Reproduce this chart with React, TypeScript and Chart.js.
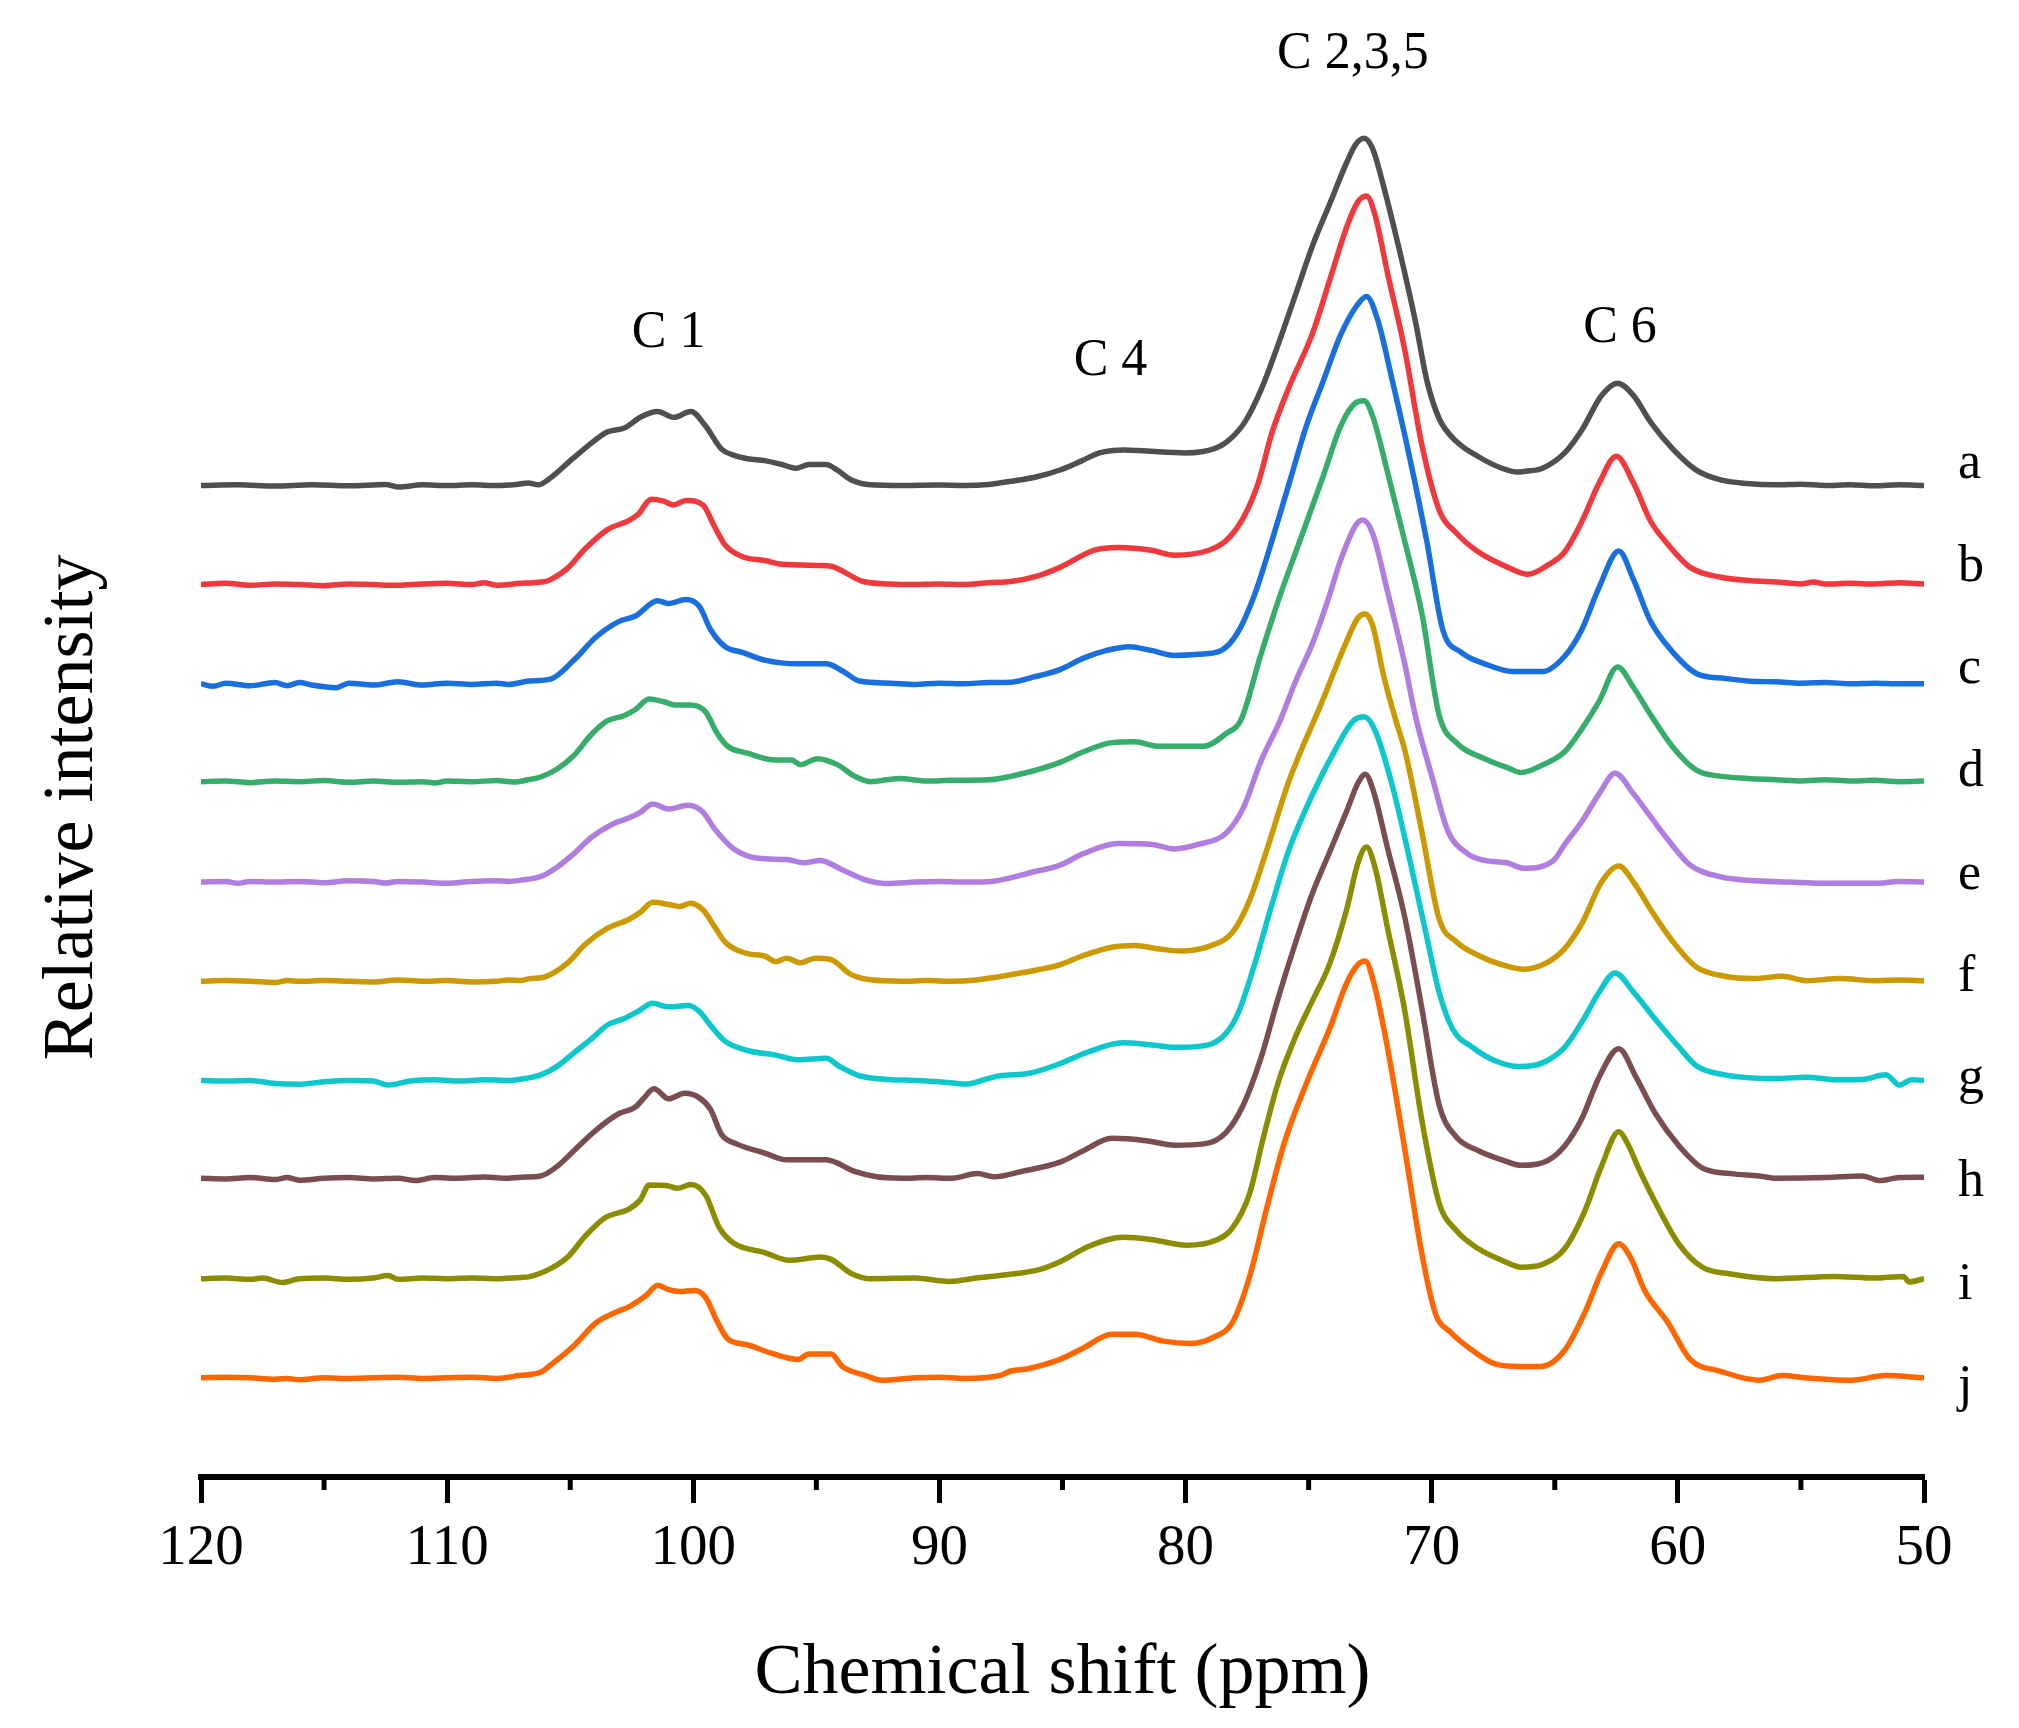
import { useEffect, useRef } from 'react';
import { Chart, registerables } from 'chart.js';

Chart.register(...registerables);

// ---- axis ----
const X_MIN = 50;
const X_MAX = 120;
const X_STEP = 10;
const minorTickValues = [115, 105, 95, 85, 75, 65, 55];
const Y_MAX = 1147;

// ---- series (ppm, relative intensity above own baseline) ----
const seriesNames = ['a', 'b', 'c', 'd', 'e', 'f', 'g', 'h', 'i', 'j'];
const seriesColors = ['#4F4F4F', '#F0393C', '#1A6FDF', '#37AD6B', '#B07DE0', '#CC9900', '#0CC7CB', '#7A4E50', '#8C8C00', '#FF6600'];
const seriesOffsets = [770, 693, 616, 540, 462, 385, 308, 232, 154, 77];
const seriesLabelY = [776, 696, 616.5, 537, 457, 377.5, 298, 218, 138.5, 59];

const seriesA = [[120,0],[118.5,0.5],[117,-0.5],[115.5,0.5],[114,-0.3],[112.5,0.8],[112,-1.2],[111,0.5],[110,0],[109,0.5],[108,0],[107.2,0.8],[106.7,2],[106.3,0.5],[105.8,5.9],[104.9,20.8],[104,35],[103.5,41.6],[102.8,44.6],[102.1,53.5],[101.45,57.4],[100.8,52.9],[100.1,57.4],[99.5,46.1],[98.85,28.2],[98.4,23.8],[97.8,20.8],[97.1,19.3],[96.4,16.3],[95.8,13.4],[95.3,16.3],[94.6,16.3],[94.15,11.9],[93.6,4.5],[92.8,0.6],[91.5,0],[90,0.3],[89,0],[88,0.8],[87,3.5],[86,7],[85.1,12],[84.2,19.3],[83.5,25.3],[82.5,27.6],[81.6,26.7],[80,25.3],[78.8,28.8],[78.3,34.2],[77.6,49],[76.9,75.8],[76.2,111.5],[75.5,150],[74.85,185.8],[74.15,218.4],[73.45,251],[73.1,264.5],[72.75,269.6],[72.4,261.5],[72.05,239.2],[71.35,185.8],[70.65,126.3],[70.2,81.7],[69.7,52],[69,34.2],[68.1,22.3],[67.15,13.4],[66.5,10.4],[66.2,11],[65.5,13.4],[64.6,25.3],[63.9,43.1],[63.1,69.8],[62.45,79.4],[61.8,69.8],[61.1,49],[60.2,28.2],[59.25,11.9],[58.3,4.5],[57.2,1.5],[56,0.5],[55,1],[54,0],[53,0.5],[52,-0.3],[51,0.5],[50,0]];
const seriesB = [[120,0],[119,1],[118,-0.5],[117,0.5],[116,0],[115,-0.8],[114,0.5],[113,0],[112,-0.5],[111,0.5],[110,1],[109,0],[108.5,1.5],[108,-0.5],[107,1],[106.5,1.5],[106,2.5],[105.8,3.9],[105.1,12.8],[104.4,27.6],[103.5,42.5],[102.6,49.9],[102.25,54.4],[101.7,66.3],[101.2,64.8],[100.8,61.8],[100.3,65.4],[99.6,61.8],[99.15,45.5],[98.7,30.6],[98,21.7],[97.1,18.7],[96.4,15.8],[94.85,14.9],[94.4,14.3],[93.1,2.4],[92,0.5],[91.2,0],[90,0.5],[89,0],[88,1.5],[87.1,2.4],[86,6.8],[85.1,13.4],[83.7,26.7],[82.75,28.8],[81.4,26.7],[80.45,22.9],[79.05,26.7],[78.35,34.2],[77.65,52],[77.05,78.8],[76.5,117.4],[75.8,153.1],[74.85,194.7],[74.05,242.3],[73.45,277.9],[73,297.2],[72.65,301.7],[72.3,286.8],[71.8,242.3],[71.1,182.8],[70.4,108.5],[69.7,58],[69,40.1],[68.1,25.3],[66.9,13.4],[66.1,8],[65.3,14.9],[64.6,25.3],[63.9,49],[63.2,78.8],[62.5,99.6],[61.8,78.8],[61.1,49],[60.4,31.2],[59.5,13.4],[58.3,5.9],[57,3],[56,2.1],[55,0.5],[54.5,2],[54,0.5],[53,1],[52,0.5],[51,1.5],[50,0.5]];
const seriesC = [[120,0],[119.5,-2],[119,0.5],[118,-1.5],[117,1],[116.5,-1.5],[116,1],[115.5,-1],[114.5,-3],[114,0.5],[113,-1],[112,1.5],[111,-1],[110,0.5],[109,-0.5],[108,0.5],[107.5,-0.5],[107,1],[106.7,2.1],[105.8,3.6],[104.85,18.4],[103.95,36.3],[103.05,48.1],[102.35,52.6],[101.45,64.5],[101,62.4],[100.3,65.4],[99.75,60],[99.3,42.2],[98.7,28.8],[98,24.4],[97.1,18.4],[95.75,15.5],[94.6,15.5],[93.9,9.5],[93.25,2.1],[92,0.5],[91,-0.5],[90,0.5],[89,0],[88,1],[87.1,1.2],[86.2,5.1],[85.1,11],[84.15,19.9],[83.2,25.9],[82.3,28.8],[81.4,25.9],[80.45,22],[79.5,22.9],[78.55,25.9],[77.9,39.2],[77.2,69],[76.5,110.6],[75.8,155.1],[75.1,199.7],[74.4,235.4],[73.7,271],[73,294.8],[72.65,300.8],[72.2,283],[71.6,235.4],[70.9,176],[70.2,110.6],[69.55,42],[68.8,24.4],[67.85,15.5],[66.7,9.5],[65.5,9.5],[64.6,21.4],[63.9,42.2],[63.2,74.9],[62.4,103.1],[61.8,80.8],[61.1,48.1],[60.2,24.4],[59.25,8],[58.1,4.2],[57,2],[56,1.5],[55,0.5],[54,1],[53,0],[52,0.5],[51,0],[50,0]];
const seriesD = [[120,0],[119,0.5],[118,-0.8],[117,0.5],[116,0],[115,0.8],[114,-0.5],[113,0.5],[112,-0.5],[111,0],[110.5,-1],[110,0.5],[109,0],[108,0.8],[107.3,-0.3],[106.7,1.5],[106.2,3.6],[105.55,9.6],[104.85,20.3],[104.15,36.4],[103.5,47.1],[102.8,51.4],[102.35,56],[101.8,64.2],[101.2,62],[100.75,59.6],[100.1,59.6],[99.5,54.2],[99.05,38.2],[98.6,27.5],[97.8,22.1],[96.65,16.8],[96,16.8],[95.65,13.2],[94.95,17.8],[94.15,13.2],[93.45,4.3],[92.8,0],[91.65,2.5],[90.5,0.5],[89.5,1],[88,1.4],[86.65,6.1],[85.1,15],[84.15,23.2],[83,30.3],[82.05,31],[81.15,27.5],[80.2,27.5],[79.25,27.5],[78.35,37.4],[77.75,48],[76.95,98],[76.25,139.6],[75.3,190],[74.4,237.7],[73.7,276],[73.1,294],[72.75,295.7],[72.4,283.8],[71.8,240.7],[71.1,187],[70.4,130.7],[69.7,51.7],[69,30.3],[67.85,17.8],[66.9,10.7],[66.35,7.1],[65.55,12.5],[64.6,23.2],[63.9,41],[63.2,62.4],[62.45,89],[61.8,73.1],[61.1,51.7],[60.2,26.7],[59.25,8.9],[58.3,4.3],[57.15,2.5],[56,1.5],[55,0.5],[54,1.5],[53,0.5],[52,1],[51,0],[50,0.5]];
const seriesE = [[120,0],[119,0.5],[118.5,-1],[118,0.5],[117,0],[116,0.5],[115,-0.5],[114,1],[113,0.5],[112.5,-0.8],[112,0.5],[111,0],[110,-1],[109,0.5],[108,1],[107.5,0.5],[107,1.5],[106.2,4.3],[105.55,11.4],[104.85,22.1],[104.15,34.6],[103.25,45.3],[102.6,49.9],[102.15,54.2],[101.65,60.6],[101,56.7],[100.2,59.6],[99.6,54.2],[99.15,41.7],[98.35,25.7],[97.35,18.5],[96.2,17.5],[95.5,15],[94.85,16.8],[93.95,9.6],[93,1.8],[92.1,-1.1],[91,0],[90,0.5],[89,0],[87.8,0.7],[86.2,7.8],[85.1,13.2],[84.15,22.1],[82.75,30],[81.35,29.2],[80.45,25.7],[79.5,29.2],[78.35,38.2],[77.65,57.8],[76.95,93.4],[76.15,125.8],[75.55,155],[74.85,185],[74.2,220],[73.7,250],[73.1,276.8],[72.8,281.2],[72.4,270.8],[71.8,226],[71.1,169.8],[70.65,128],[69.95,79.2],[69.35,40],[68.55,22.1],[67.85,16.8],[66.95,15],[66.25,10.7],[65.05,16.8],[64.6,29.2],[63.9,47.1],[63.2,68.5],[62.55,84.5],[61.8,68.5],[61.1,50.6],[60.4,32.8],[59.5,13.2],[58.3,4.3],[57.15,1.4],[55.5,0],[53.9,-1],[52,-1],[51,0.5],[50,0]];
const seriesF = [[120,0],[119,0.5],[118,0],[117,-1],[116.5,0.5],[116,0],[115,0.5],[114,0],[113,-0.5],[112,1],[111,0],[110,0.5],[109,-0.5],[108,0],[107.5,1],[107,0.5],[106.7,1.8],[106,3.6],[105.1,14.3],[104.4,28.5],[103.5,41],[102.6,48.1],[102.15,53.5],[101.65,61.3],[101,59.6],[100.55,58.1],[100.1,60.6],[99.6,55.3],[99.15,42.8],[98.7,30.3],[97.8,21.4],[97.1,19.6],[96.65,15.3],[96.2,17.8],[95.65,14.3],[95.05,17.8],[94.4,16.8],[93.6,5.3],[92.8,1.1],[91.5,0],[90.5,0.5],[89.5,0],[88.5,1],[87.55,3.6],[86,8.9],[85.1,12.8],[84.15,20],[83,26.4],[82.05,27.8],[81.15,25.3],[80.2,23.5],[79.05,27.1],[78.1,37.8],[77.4,62.8],[76.7,102],[75.8,155.5],[74.5,215],[73.45,264.3],[73,282.1],[72.7,285.1],[72.4,276.2],[71.95,237],[71.45,202],[71.1,180],[70.4,116],[69.7,48.5],[69,30.7],[68.1,20],[67.15,12.8],[66.25,9.3],[65.3,14.6],[64.6,25.3],[63.9,44.9],[63.1,77],[62.4,89.5],[61.8,77],[61.1,55.6],[60.2,30.7],[59.25,11.1],[58.1,3.9],[56.9,2.1],[55.75,3.9],[54.8,0.4],[53.4,2.1],[52,0.4],[51,1],[50,0.4]];
const seriesG = [[120,0],[119,-0.5],[118,0],[117,-2.5],[116,-3],[115,-1],[114,0],[113,-0.5],[112.4,-3.6],[111.5,-0.5],[110.5,0.5],[109.5,-0.5],[108.5,0.5],[107.5,0],[107.1,0.7],[106.2,4.3],[105.55,10.7],[104.85,21.4],[104.15,32.1],[103.5,42.8],[102.8,48.1],[102.25,53.5],[101.65,59.9],[101,57.1],[100.2,58.1],[99.75,53.5],[99.3,42.8],[98.7,30.3],[97.8,23.2],[96.65,19.6],[95.75,16],[94.6,17.1],[94.05,10.7],[93.25,3.6],[92.1,0.7],[91,0],[90,-1],[88.9,-2.9],[88.2,0.5],[87.55,3.6],[86.4,5.3],[85.1,13],[83.95,22.1],[82.55,29.2],[81.35,27.5],[80.45,25.7],[79.5,26.4],[78.55,32.8],[77.9,50.6],[77.2,89.9],[76.5,136.2],[75.8,179],[74.85,221.8],[73.9,257.5],[73.2,278.9],[72.75,282.4],[72.3,271.7],[71.6,228.9],[70.9,171.9],[70.2,111.3],[69.7,68.5],[69.15,39.9],[68.35,25.7],[67.4,15],[66.45,10.7],[65.55,13.2],[64.6,25.7],[63.9,45.3],[63.2,68.5],[62.55,83.4],[61.8,68.5],[60.9,47.1],[59.95,25.7],[59.25,11.4],[58.1,4.3],[56,1.4],[54.8,2.5],[53.5,0.5],[52.5,0.7],[51.55,4.3],[51,-3.6],[50.5,0.5],[50,0]];
const seriesH = [[120,0],[119,-0.5],[118,0.5],[117,-1],[116.5,0.5],[116,-1.5],[115,0],[114,0.5],[113,-0.5],[112,0],[111.3,-1.8],[110.5,0.5],[109.5,0],[108.5,1],[107.7,0],[107,0.8],[106.2,1.8],[105.55,8.9],[104.85,21.4],[103.95,37.4],[103.05,49.9],[102.35,55.3],[102,62.4],[101.6,69.5],[101,61.7],[100.35,66],[99.75,62.4],[99.3,53.5],[98.85,33.9],[98.25,26.7],[97.1,19.6],[96.2,14.3],[94.6,14.3],[93.45,5.3],[92.55,1.1],[91.5,0],[90.5,0.5],[89.5,0],[88.45,3.6],[87.8,1.1],[86.65,5.3],[85.1,12.5],[84.15,21.4],[83,31],[81.6,29.2],[80.45,25.7],[79.25,26.7],[78.35,35.7],[77.65,57.1],[76.95,92.7],[76.25,139.1],[75.55,181.9],[74.85,221.1],[74.15,253.2],[73.45,285.3],[73,306.7],[72.7,313.8],[72.35,299.5],[71.8,256.8],[71.1,203.3],[70.4,131.9],[69.7,57.1],[69,32.1],[68.1,21.4],[67.15,14.3],[66.35,10],[65.3,13.6],[64.6,25],[63.9,46.4],[63.2,78.5],[62.4,100.6],[61.7,78.5],[60.9,49.9],[59.95,25],[59,7.8],[57.85,3.6],[56.7,1.8],[56,0],[54,0.5],[52.5,1.8],[51.8,-1.8],[51,0.5],[50,0.7]];
const seriesI = [[120,0],[119,0.5],[118,-0.5],[117.5,0.5],[116.7,-2.9],[116,0],[115,0.5],[114,-0.5],[113,0.5],[112.4,2.5],[112,-0.5],[111,0.5],[110,0],[109,0.5],[108,0],[107,1],[106.7,1.4],[105.8,7.8],[105.1,16.8],[104.4,32.8],[103.6,47.1],[102.6,54.2],[102.15,61.3],[101.8,72.7],[101,72],[100.65,70.2],[100.1,73.1],[99.5,64.9],[98.95,39.9],[98.35,27.5],[97.1,20.3],[96.1,14.3],[94.85,16.8],[94.4,15],[93.6,4.3],[92.8,0],[91,0.5],[89.6,-2.1],[88.5,0.5],[87.55,2.5],[85.95,7.1],[85.1,13.2],[83.95,25],[82.55,32.1],[81.35,30.3],[79.95,26],[78.8,29.6],[78.1,39.2],[77.4,66],[76.85,108.8],[76.25,151.6],[75.55,187.2],[74.85,215.7],[74.15,244.3],[73.45,287.1],[73,322.7],[72.65,335.2],[72.3,319.2],[71.8,272.8],[71.1,208.6],[70.4,123],[69.7,58.8],[69,37.4],[68.1,23.2],[67.15,14.3],[66.35,8.9],[65.55,10.7],[64.6,23.2],[63.8,51.7],[63.1,87.4],[62.4,114.1],[62.05,105.2],[61.55,83.8],[60.9,58.8],[59.95,26.7],[59,8.9],[57.85,3.6],[56,0],[53.65,1.8],[52,0.5],[50.85,1.8],[50.6,-2.5],[50,0]];
const seriesJ = [[120,0],[119,0.5],[118,0],[117,-1],[116.5,-0.5],[116,-1.5],[115,0],[114,-0.5],[113,0],[112,0.5],[111,-0.5],[110,0],[109,0.5],[108,-0.5],[107.5,0.5],[107.1,1.8],[106.2,4.3],[105.75,10.7],[104.85,25],[103.95,42.8],[103.05,51.7],[102.6,55.3],[101.9,64.2],[101.45,72],[101,68.5],[100.55,67],[99.95,67.8],[99.5,62.4],[99.05,44.6],[98.6,30.3],[97.8,25.7],[96.9,19.6],[95.75,14.3],[95.3,18.5],[94.4,18.5],[93.95,8.9],[93,1.8],[92.35,-1.8],[91,0],[90,0.5],[89,-0.5],[87.55,1.8],[87.1,5.3],[86.4,7.1],[85.1,14.3],[84.15,23.2],[83,33.9],[82.05,33.9],[80.9,28.5],[79.75,26.7],[78.8,32.1],[78.1,42.8],[77.4,78.5],[76.7,131.9],[76,181.9],[75.1,228.2],[74.15,271],[73.45,306.7],[73,320.9],[72.7,323.8],[72.35,306.7],[71.8,256.8],[71.1,178.3],[70.4,96.3],[69.85,49.9],[69.25,35.7],[68.35,21.4],[67.4,10.7],[66.45,8.9],[65.55,8.9],[64.6,21.4],[63.8,49.9],[63.1,82],[62.4,104.1],[61.9,92.7],[61.35,67.8],[60.4,42.8],[59.5,14.3],[58.3,5.3],[56.7,-1.8],[55.75,1.8],[54.8,0],[52.95,-1.8],[51.55,1.8],[50,0]];

const allSeries = [seriesA, seriesB, seriesC, seriesD, seriesE, seriesF, seriesG, seriesH, seriesI, seriesJ];

// ---- peak annotations ----
const peakLabels = ['C 1', 'C 4', 'C 2,3,5', 'C 6'];
const peakLabelPpm = [101.0, 83.05, 73.2, 62.35];
const peakLabelY = [877.5, 855.8, 1094.2, 881.4];

const xTitle = 'Chemical shift (ppm)';
const yTitle = 'Relative intensity';
const FONT = '"Liberation Serif", "Times New Roman", serif';

const decorPlugin = {
  id: 'decor',
  afterDraw(chart: any) {
    const { ctx, chartArea } = chart;
    const x = chart.scales.x;
    const y = chart.scales.y;
    ctx.save();
    // minor ticks
    ctx.strokeStyle = '#000';
    ctx.lineWidth = 5;
    minorTickValues.forEach((v) => {
      const px = x.getPixelForValue(v);
      ctx.beginPath();
      ctx.moveTo(px, chartArea.bottom);
      ctx.lineTo(px, chartArea.bottom + 13);
      ctx.stroke();
    });
    ctx.fillStyle = '#000';
    ctx.textBaseline = 'alphabetic';
    // peak labels
    ctx.font = `52px ${FONT}`;
    ctx.textAlign = 'center';
    peakLabels.forEach((t, i) => {
      ctx.fillText(t, x.getPixelForValue(peakLabelPpm[i]), y.getPixelForValue(peakLabelY[i]));
    });
    // series labels
    ctx.textAlign = 'left';
    seriesNames.forEach((n, i) => {
      ctx.fillText(n, chartArea.right + 34, y.getPixelForValue(seriesLabelY[i]));
    });
    // x title
    ctx.font = `72px ${FONT}`;
    ctx.textAlign = 'center';
    ctx.fillText(xTitle, (chartArea.left + chartArea.right) / 2, chartArea.bottom + 216);
    // y title
    ctx.translate(92, y.getPixelForValue(520));
    ctx.rotate(-Math.PI / 2);
    ctx.fillText(yTitle, 0, 0);
    ctx.restore();
  },
};

export default function App() {
  const canvasRef = useRef<HTMLCanvasElement | null>(null);

  useEffect(() => {
    if (!canvasRef.current) return;
    const datasets = allSeries.map((s, i) => ({
      label: seriesNames[i],
      data: s.map(([p, v]) => ({ x: p, y: seriesOffsets[i] + v })),
      borderColor: seriesColors[i],
      backgroundColor: seriesColors[i],
      borderWidth: 5.5,
      pointRadius: 0,
      fill: false,
      cubicInterpolationMode: 'monotone' as const,
      order: seriesNames.length - 1 - i,
    }));
    const chart = new Chart(canvasRef.current, {
      type: 'line',
      data: { datasets },
      options: {
        animation: false,
        responsive: true,
        maintainAspectRatio: false,
        events: [],
        layout: { padding: { left: 201, right: 95, top: 0, bottom: 0 } },
        plugins: { legend: { display: false }, tooltip: { enabled: false }, title: { display: false } },
        scales: {
          x: {
            type: 'linear',
            reverse: true,
            min: X_MIN,
            max: X_MAX,
            afterFit: (scale: any) => {
              scale.height = 251;
            },
            ticks: {
              stepSize: X_STEP,
              autoSkip: false,
              maxRotation: 0,
              padding: 12,
              color: '#000',
              font: { family: FONT, size: 57, lineHeight: 1.2 },
            },
            grid: {
              display: true,
              drawOnChartArea: false,
              drawTicks: true,
              tickLength: 26,
              tickWidth: 5,
              tickColor: '#000',
              color: 'rgba(0,0,0,0)',
            },
            border: { display: true, color: '#000', width: 6 },
          },
          y: {
            type: 'linear',
            display: false,
            min: 0,
            max: Y_MAX,
          },
        },
      },
      plugins: [decorPlugin],
    });
    return () => chart.destroy();
  }, []);

  return (
    <div style={{ position: 'absolute', left: 0, top: 0, width: 2019, height: 1728, background: '#fff' }}>
      <canvas ref={canvasRef} />
    </div>
  );
}
